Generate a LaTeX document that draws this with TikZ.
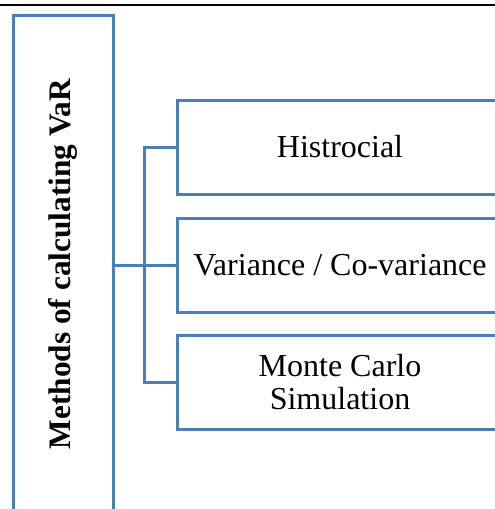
\documentclass[tikz,border=0pt]{standalone}
\usepackage{fontspec}
\setmainfont{Liberation Serif}
\usetikzlibrary{calc, positioning}
\definecolor{boxblue}{HTML}{4A7EBB}
\tikzset{
    methodbox/.style={draw=boxblue, line width=3pt, fill=white, minimum width=326pt, minimum height=94pt, inner sep=0pt, align=center, font=\fontsize{32}{33}\selectfont},
    link/.style={draw=boxblue, line width=3pt}
}

\begin{document}
\begin{tikzpicture}[x=1pt, y=-1pt]
            \useasboundingbox (0,0) rectangle (495,509);
            \clip (0,0) rectangle (495,509);
            \def\gap{31}     % trunk offset from the boxes
            \draw[line width=2.5pt, black] (0,5) -- (495,5);
            \node[draw=boxblue, line width=3pt, minimum width=100pt, minimum height=498pt, inner sep=0pt] (meth) at (63,264) {\rotatebox{90}{\fontsize{31.3}{33}\selectfont\bfseries Methods of calculating VaR}};
            \node[methodbox] (hist) at (340,147) {Histrocial};
            \node[methodbox] (cov) at (340,265) {Variance / Co-variance};
            \node[methodbox] (mc) at (340,382.5) {Monte Carlo\\Simulation};
            \coordinate (bus) at ($(cov.west)+(-\gap,0)$);
            \draw[link] (hist.west) -| (bus) |- (mc.west);
            \draw[link] (meth.east |- cov.west) -- (cov.west);
        \end{tikzpicture}
\end{document}
